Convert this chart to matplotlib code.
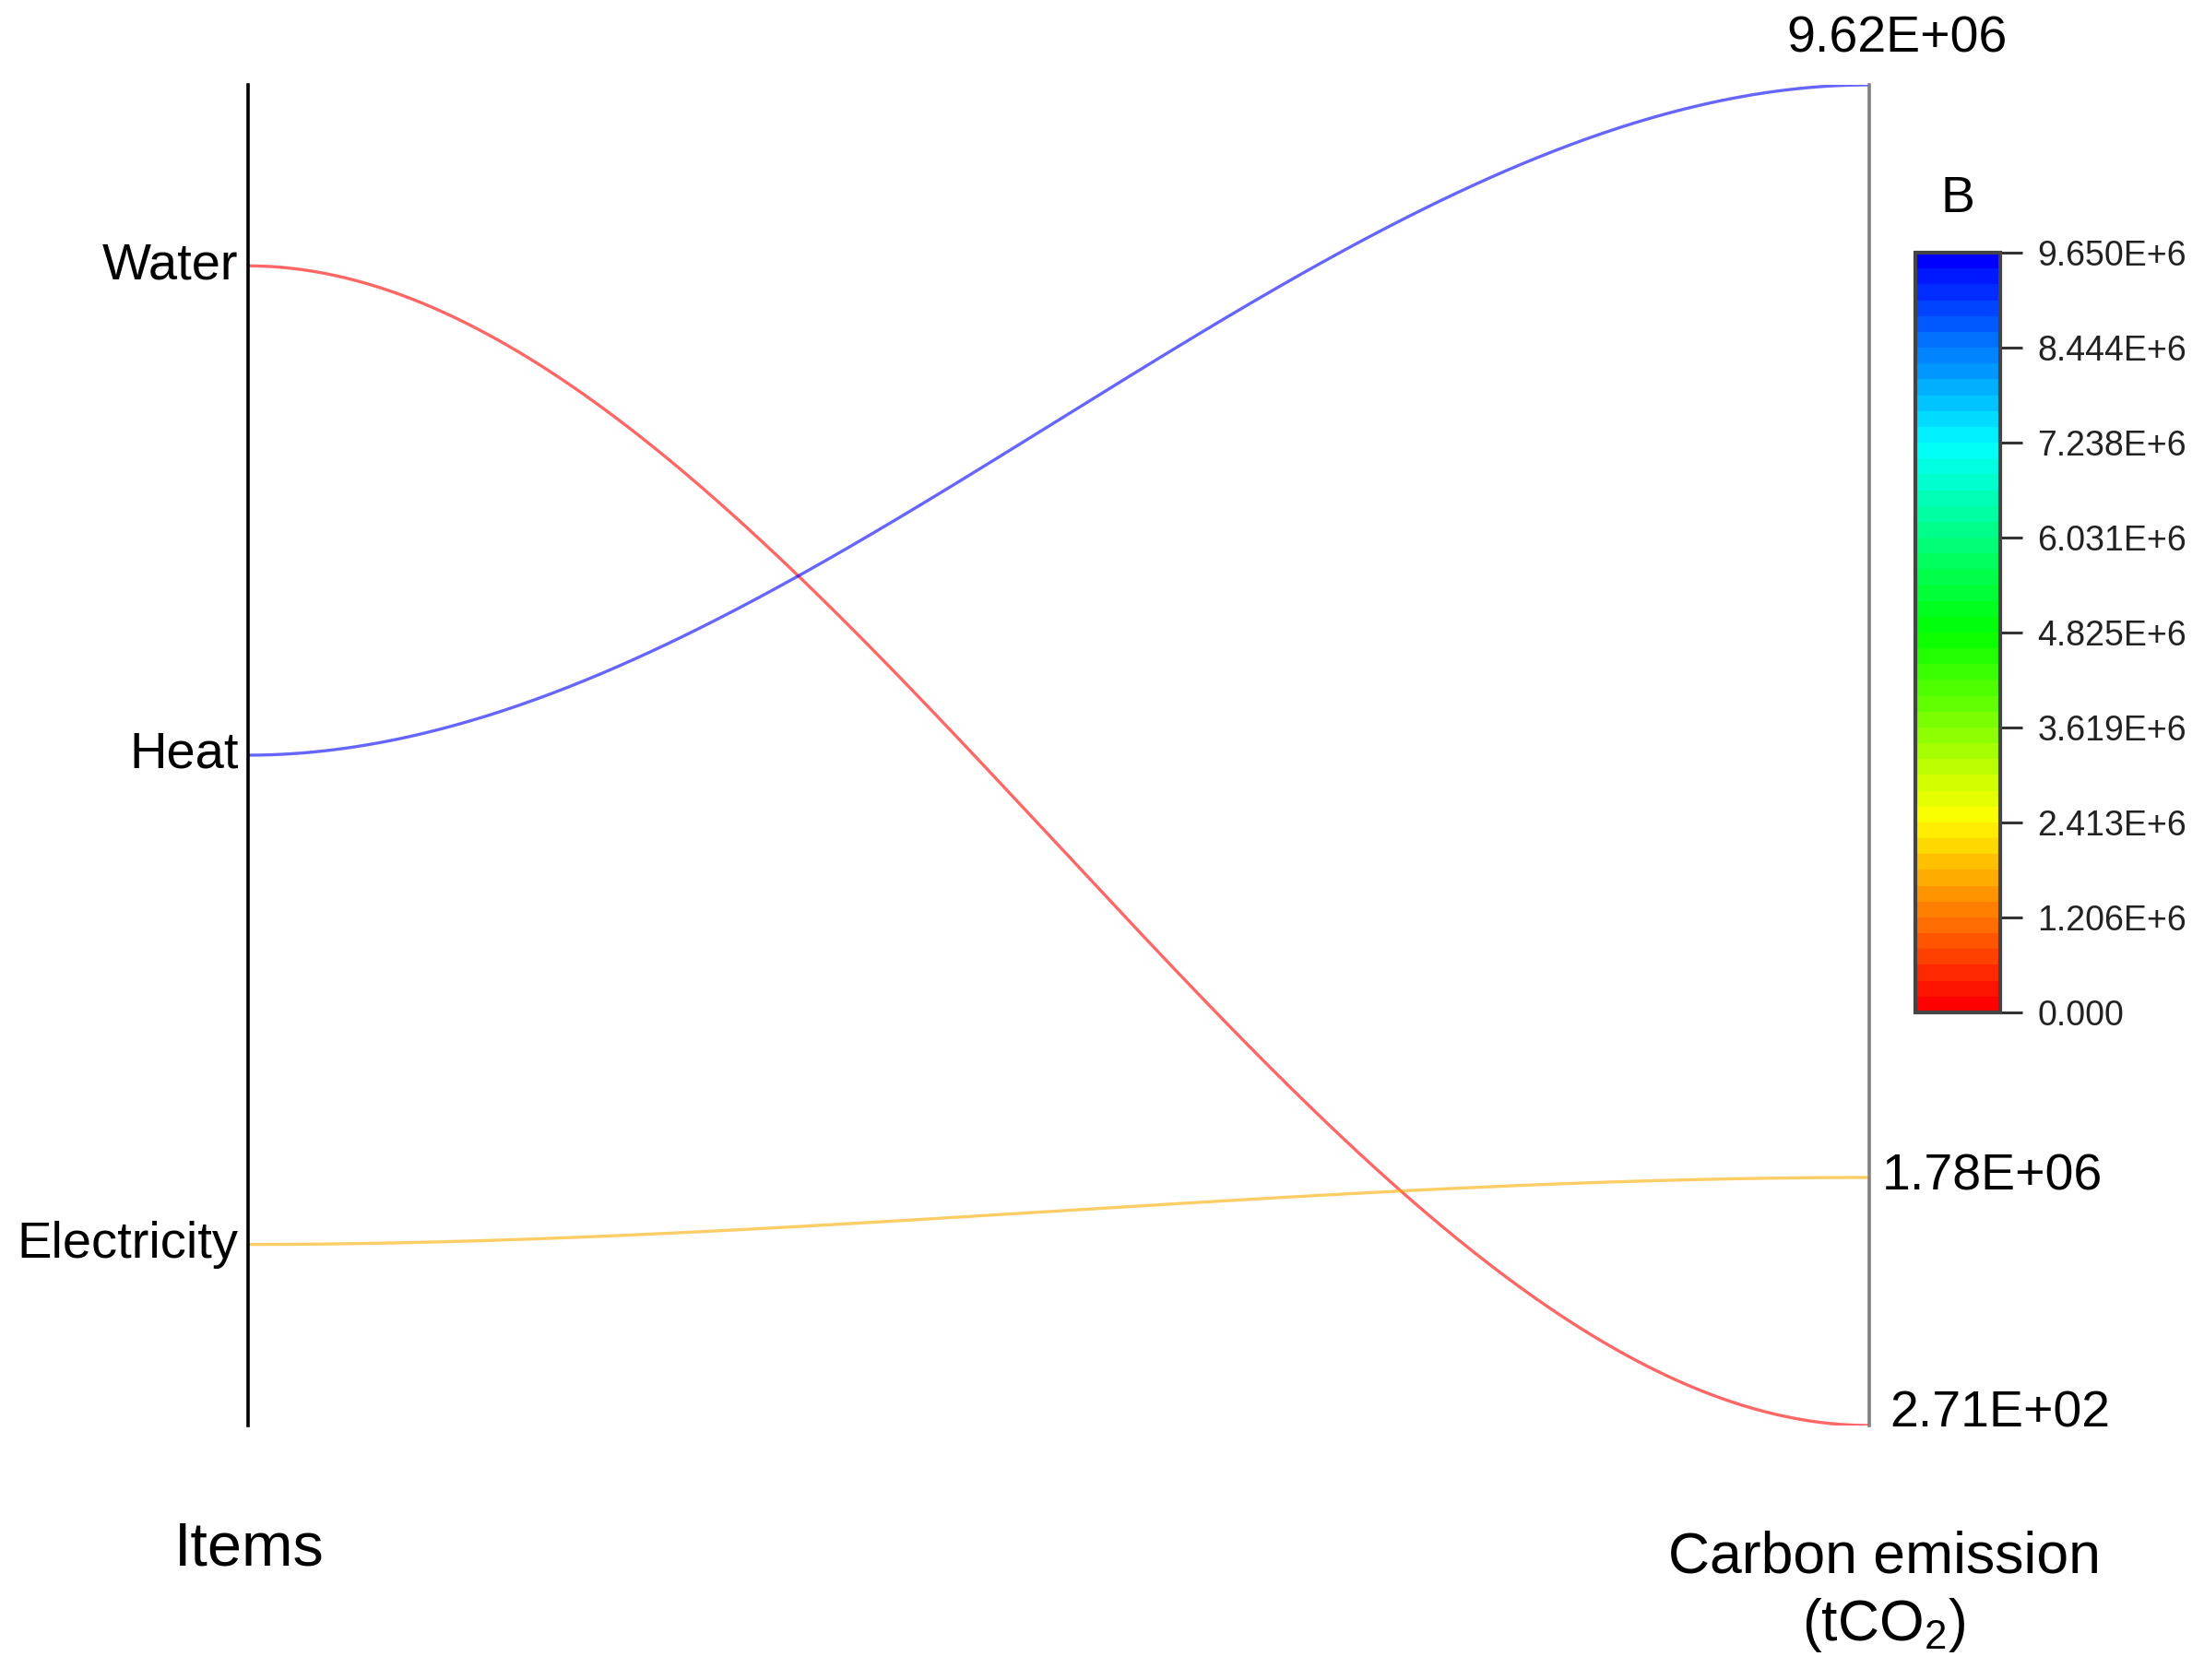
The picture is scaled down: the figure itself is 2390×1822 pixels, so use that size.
import numpy as np
import matplotlib
matplotlib.use('Agg')
import matplotlib.pyplot as plt
from matplotlib.colors import LinearSegmentedColormap, BoundaryNorm

plt.rcParams['font.family'] = ['Liberation Sans', 'DejaVu Sans']
plt.rcParams['mathtext.fontset'] = 'custom'
plt.rcParams['mathtext.rm'] = 'Liberation Sans'
plt.rcParams['mathtext.it'] = 'Liberation Sans:italic'

# data
items = ['Water', 'Heat', 'Electricity']
emissions = [2.71e2, 9.62e6, 1.78e6]
value_labels = ['2.71E+02', '9.62E+06', '1.78E+06']

# colour scale (Origin style rainbow)
cbar_min = 0.0
cbar_max = 9.65e6
n_levels = 48

cmap = LinearSegmentedColormap.from_list('rainbow_origin', [
    (0.0, (1, 0, 0)),
    (0.125, (1, 0.5, 0)),
    (0.25, (1, 1, 0)),
    (0.5, (0, 1, 0)),
    (0.75, (0, 1, 1)),
    (1.0, (0, 0, 1)),
])
bounds = np.linspace(cbar_min, cbar_max, n_levels + 1)
norm = BoundaryNorm(bounds, cmap.N)

fig = plt.figure(figsize=(11.95, 9.11), dpi=200)
ax = fig.add_axes([0.1126, 0.1515, 0.7355, 0.798])

n = len(items)
pad = 0.37
ax.set_xlim(0, 1)
ax.set_ylim(-pad, n - 1 + pad)
vmin, vmax = min(emissions), max(emissions)

def to_left(v):
    # map an emission value onto the left axis scale
    return -pad + (v - vmin) / (vmax - vmin) * (n - 1 + 2 * pad)

t = np.linspace(0, 1, 300)
s = 3 * t**2 - 2 * t**3
for i, (name, val) in enumerate(zip(items, emissions)):
    y0 = n - 1 - i
    y1 = to_left(val)
    ax.plot(t, y0 + (y1 - y0) * s, color=cmap(norm(val)), lw=1.2, alpha=0.6,
            solid_capstyle='butt')
    ax.text(-0.006, y0, name, ha='right', va='center', fontsize=20.2)

# value labels on right axis
for val, lab in zip(emissions, value_labels):
    y = to_left(val)
    if val == vmax:
        ax.annotate(lab, (1, y), xytext=(11, 18), textcoords='offset points',
                    ha='center', va='center', fontsize=20)
    elif val == vmin:
        ax.annotate(lab, (1, y), xytext=(8, 4.5), textcoords='offset points',
                    ha='left', va='center', fontsize=20)
    else:
        ax.annotate(lab, (1, y), xytext=(5, 0), textcoords='offset points',
                    ha='left', va='center', fontsize=20)

for sp in ['top', 'bottom']:
    ax.spines[sp].set_visible(False)
ax.spines['left'].set_color('black')
ax.spines['left'].set_linewidth(1.3)
ax.spines['right'].set_color('#808080')
ax.spines['right'].set_linewidth(1.3)
ax.set_xticks([])
ax.set_yticks([])

fig.text(270 / 2390, 1 - 1680 / 1822, 'Items', ha='center', va='center', fontsize=24)
fig.text(2043 / 2390, 1 - 1727 / 1822, 'Carbon emission\n(tCO$_2$)', ha='center',
         va='center', fontsize=22.5, linespacing=1.25)

# colorbar
cax = fig.add_axes([0.869, 0.3974, 0.0385, 0.4522])
sm = plt.cm.ScalarMappable(cmap=cmap, norm=norm)
cb = fig.colorbar(sm, cax=cax, boundaries=bounds)
ticks = np.linspace(cbar_min, cbar_max, 9)
cb.set_ticks(ticks)
cb.ax.minorticks_off()
cb.set_ticklabels(['0.000'] + ['%.3fE+6' % (v / 1e6 + 1e-9) for v in ticks[1:]])
cb.ax.tick_params(length=8.5, width=1.1, color='#333333', labelsize=13.5,
                  labelcolor='#222222', pad=6)
cb.outline.set_edgecolor('#444444')
cb.outline.set_linewidth(1.5)
cax.set_title('B', fontsize=20, pad=16)

fig.savefig('out.png', dpi=200)
